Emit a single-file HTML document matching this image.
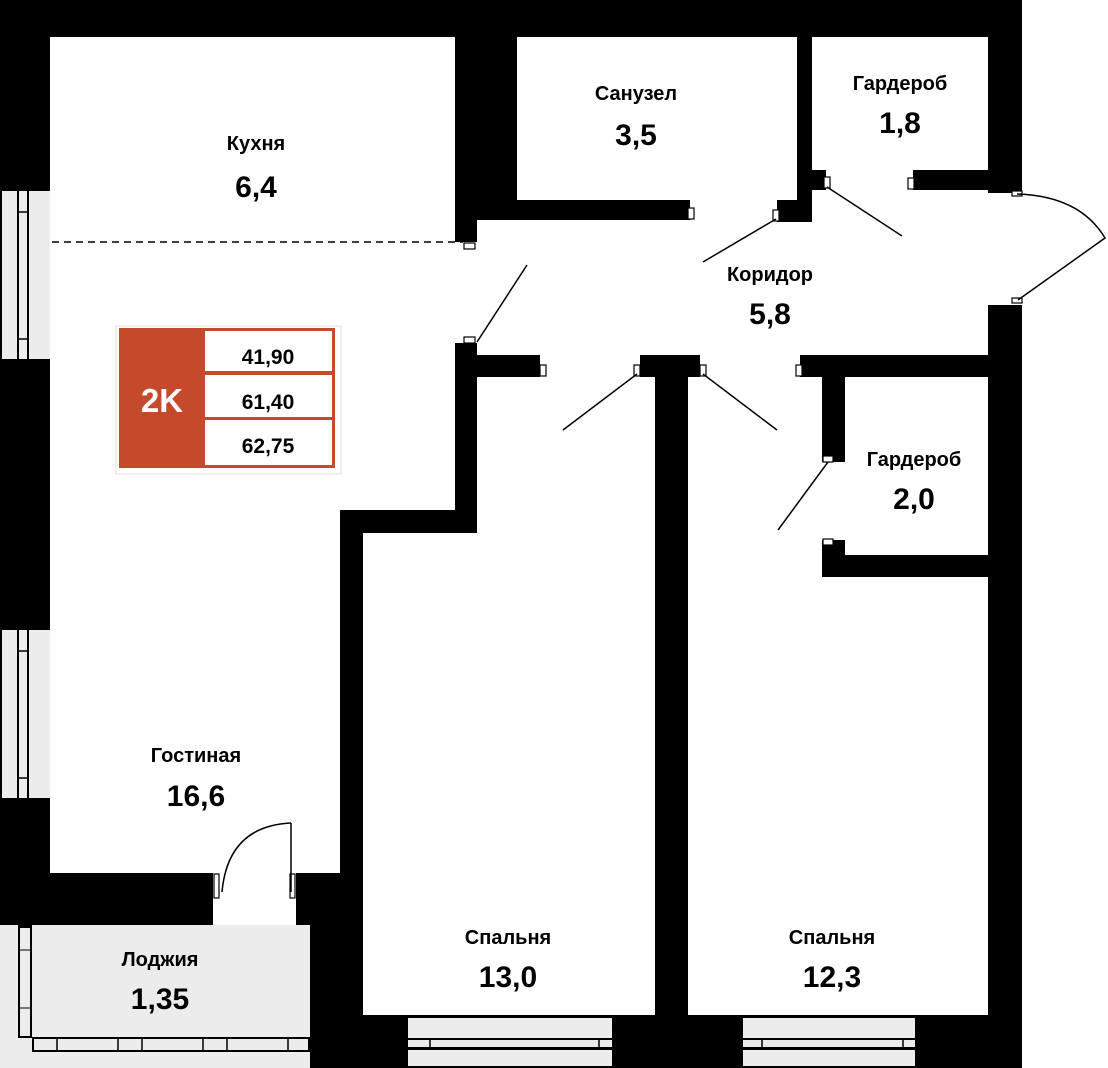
<!DOCTYPE html>
<html><head><meta charset="utf-8"><style>
html,body{margin:0;padding:0;background:#fff;}
svg{display:block;}
text{font-family:"Liberation Sans",sans-serif;font-weight:bold;text-anchor:middle;fill:#000;}
</style></head><body>
<svg width="1108" height="1068" viewBox="0 0 1108 1068" xmlns="http://www.w3.org/2000/svg">
<rect x="0" y="0" width="1022" height="1068" fill="#000"/>
<rect x="1022" y="0" width="86" height="1068" fill="#fff"/>
<rect x="988" y="193" width="34" height="112" fill="#fff"/>
<polygon fill="#fff" points="50,37 455,37 455,510 340,510 340,873 50,873"/>
<rect x="455" y="242" width="22" height="101" fill="#fff"/>
<rect x="477" y="220" width="511" height="135" fill="#fff"/>
<rect x="690" y="200" width="87" height="20" fill="#fff"/>
<rect x="812" y="170" width="101" height="52" fill="#fff"/>
<rect x="913" y="190" width="75" height="30" fill="#fff"/>
<rect x="540" y="354" width="100" height="24" fill="#fff"/>
<rect x="700" y="354" width="100" height="24" fill="#fff"/>
<rect x="517" y="37" width="280" height="163" fill="#fff"/>
<rect x="812" y="37" width="176" height="133" fill="#fff"/>
<rect x="477" y="377" width="178" height="156" fill="#fff"/>
<rect x="363" y="533" width="292" height="482" fill="#fff"/>
<rect x="688" y="377" width="134" height="200" fill="#fff"/>
<rect x="688" y="577" width="300" height="438" fill="#fff"/>
<rect x="845" y="377" width="143" height="178" fill="#fff"/>
<rect x="822" y="462" width="23" height="78" fill="#fff"/>
<rect x="477" y="355" width="63" height="22" fill="#000"/>
<rect x="455" y="343" width="22" height="167" fill="#000"/>
<rect x="640" y="355" width="60" height="22" fill="#000"/>
<rect x="655" y="377" width="33" height="691" fill="#000"/>
<rect x="800" y="355" width="222" height="22" fill="#000"/>
<rect x="822" y="377" width="23" height="78" fill="#000"/>
<rect x="822" y="545" width="23" height="32" fill="#000"/>
<rect x="845" y="555" width="143" height="22" fill="#000"/>
<rect x="477" y="200" width="213" height="20" fill="#000"/>
<rect x="777" y="200" width="35" height="22" fill="#000"/>
<rect x="797" y="37" width="15" height="165" fill="#000"/>
<rect x="812" y="170" width="14" height="20" fill="#000"/>
<rect x="913" y="170" width="109" height="20" fill="#000"/>
<rect x="213" y="873" width="83" height="55" fill="#fff"/>
<rect x="0" y="925" width="310" height="143" fill="#ececec"/>
<rect x="18" y="925" width="14" height="113" fill="#000"/>
<rect x="20" y="928" width="10" height="108" fill="#ececec"/>
<line x1="20" y1="950" x2="30" y2="950" stroke="#000"/>
<line x1="20" y1="1008" x2="30" y2="1008" stroke="#000"/>
<rect x="32" y="1037" width="278" height="15" fill="#000"/>
<rect x="34" y="1039" width="274" height="11" fill="#ececec"/>
<g stroke="#000" stroke-width="1.5">
<line x1="57" y1="1039" x2="57" y2="1050"/><line x1="118" y1="1039" x2="118" y2="1050"/><line x1="142" y1="1039" x2="142" y2="1050"/><line x1="203" y1="1039" x2="203" y2="1050"/><line x1="227" y1="1039" x2="227" y2="1050"/><line x1="288" y1="1039" x2="288" y2="1050"/>
</g>
<rect x="0" y="1052" width="310" height="16" fill="#ececec"/>
<rect x="310" y="925" width="3" height="143" fill="#000"/>
<g>
<rect x="2" y="191" width="15" height="168" fill="#ececec"/>
<rect x="19" y="191" width="8" height="168" fill="#ececec"/>
<rect x="29" y="191" width="21" height="168" fill="#ececec"/>
<line x1="19" y1="212" x2="27" y2="212" stroke="#000" stroke-width="1.5"/>
<line x1="19" y1="339" x2="27" y2="339" stroke="#000" stroke-width="1.5"/>
<rect x="2" y="630" width="15" height="168" fill="#ececec"/>
<rect x="19" y="630" width="8" height="168" fill="#ececec"/>
<rect x="29" y="630" width="21" height="168" fill="#ececec"/>
<line x1="19" y1="651" x2="27" y2="651" stroke="#000" stroke-width="1.5"/>
<line x1="19" y1="778" x2="27" y2="778" stroke="#000" stroke-width="1.5"/>
</g>
<g fill="#ececec">
<rect x="408" y="1018" width="204" height="20"/>
<rect x="408" y="1040" width="204" height="7"/>
<rect x="408" y="1050" width="204" height="16"/>
<rect x="743" y="1018" width="172" height="20"/>
<rect x="743" y="1040" width="172" height="7"/>
<rect x="743" y="1050" width="172" height="16"/>
</g>
<g stroke="#000" stroke-width="1.5">
<line x1="430" y1="1040" x2="430" y2="1047"/><line x1="599" y1="1040" x2="599" y2="1047"/>
<line x1="762" y1="1040" x2="762" y2="1047"/><line x1="903" y1="1040" x2="903" y2="1047"/>
</g>
<line x1="52" y1="242" x2="463" y2="242" stroke="#000" stroke-width="1.5" stroke-dasharray="7,5"/>
<g fill="#fff" stroke="#000" stroke-width="1.2">
<rect x="464" y="243" width="11" height="6"/>
<rect x="464" y="337" width="11" height="6"/>
<rect x="540" y="365" width="6" height="11"/>
<rect x="634" y="365" width="6" height="11"/>
<rect x="700" y="365" width="6" height="11"/>
<rect x="796" y="365" width="6" height="11"/>
<rect x="688" y="208" width="6" height="11"/>
<rect x="773" y="210" width="6" height="11"/>
<rect x="824" y="177" width="6" height="11"/>
<rect x="908" y="178" width="6" height="11"/>
<rect x="1012" y="191" width="10" height="5"/>
<rect x="1012" y="298" width="10" height="5"/>
<rect x="823" y="456" width="10" height="6"/>
<rect x="823" y="539" width="10" height="6"/>
<rect x="214" y="874" width="5" height="24"/>
<rect x="290" y="874" width="5" height="24"/>
</g>
<g stroke="#000" stroke-width="1.5" fill="none">
<line x1="477" y1="342" x2="527" y2="265"/>
<line x1="637" y1="374" x2="563" y2="430"/>
<line x1="703" y1="374" x2="777" y2="430"/>
<line x1="776" y1="219" x2="703" y2="262"/>
<line x1="827" y1="187" x2="902" y2="236"/>
<line x1="828" y1="462" x2="778" y2="530"/>
<path d="M1017,194 Q1080,196 1105,238 L1018,300"/>
<line x1="291" y1="823" x2="291" y2="892"/>
<path d="M291,823 Q228,826 222,892"/>
</g>
<rect x="116" y="326" width="225" height="148" fill="#fff" stroke="#e2e2e2" stroke-width="1"/>
<rect x="119" y="328" width="216" height="140" fill="#c44a2b"/>
<rect x="205" y="331" width="127" height="40" fill="#fff"/>
<rect x="205" y="375" width="127" height="42" fill="#fff"/>
<rect x="205" y="420" width="127" height="45" fill="#fff"/>
<text x="162" y="412" font-size="33" style="fill:#fff">2K</text>
<text x="268" y="364" font-size="21">41,90</text>
<text x="268" y="409" font-size="21">61,40</text>
<text x="268" y="453" font-size="21">62,75</text>
<text x="256" y="150" font-size="20">Кухня</text>
<text x="256" y="197" font-size="30">6,4</text>
<text x="636" y="100" font-size="20">Санузел</text>
<text x="636" y="145" font-size="30">3,5</text>
<text x="900" y="90" font-size="20">Гардероб</text>
<text x="900" y="133" font-size="30">1,8</text>
<text x="770" y="281" font-size="20">Коридор</text>
<text x="770" y="324" font-size="30">5,8</text>
<text x="914" y="466" font-size="20">Гардероб</text>
<text x="914" y="509" font-size="30">2,0</text>
<text x="196" y="762" font-size="20">Гостиная</text>
<text x="196" y="806" font-size="30">16,6</text>
<text x="508" y="944" font-size="20">Спальня</text>
<text x="508" y="987" font-size="30">13,0</text>
<text x="832" y="944" font-size="20">Спальня</text>
<text x="832" y="987" font-size="30">12,3</text>
<text x="160" y="966" font-size="20">Лоджия</text>
<text x="160" y="1009" font-size="30">1,35</text>
</svg>
</body></html>
